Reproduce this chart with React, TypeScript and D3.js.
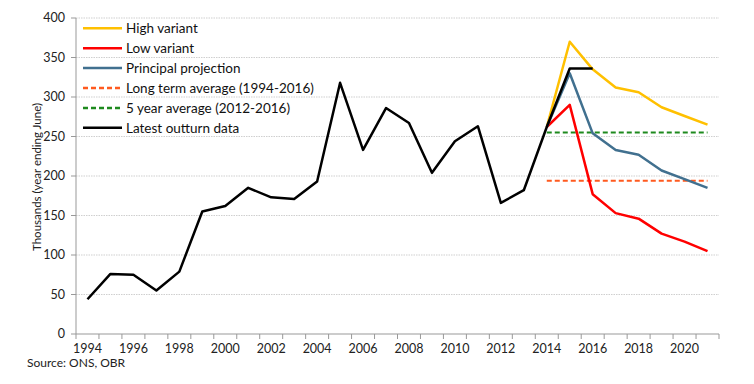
import React from "react";
import * as d3 from "d3";

const years: number[] = d3.range(1994, 2022);
const outturnYears = [1994,1995,1996,1997,1998,1999,2000,2001,2002,2003,2004,2005,2006,2007,2008,2009,2010,2011,2012,2013,2014,2015,2016];
const outturn = [44,76,75,55,79,155,162,185,173,171,193,318,233,286,267,204,244,263,166,182,262,336,336];
const projYears = [2014,2015,2016,2017,2018,2019,2020,2021];
const high = [262,370,335,312,306,287,276,265];
const low = [262,290,177,153,146,127,117,105];
const principal = [262,330,254,233,227,207,196,185];
const longTermAvg = 194;
const fiveYearAvg = 255;
const yTicks = [0,50,100,150,200,250,300,350,400];
const xLabelYears = years.filter((y) => y % 2 === 0);

const W = 754, H = 384;
const left = 76, right = 719, top = 18, bottom = 334;
const FONT = "Lato, 'DejaVu Sans', sans-serif";

export default function App() {
  const x = d3.scaleBand<number>().domain(years).range([left, right]).padding(0);
  const cx = (yr: number) => (x(yr) as number) + x.bandwidth() / 2;
  const y = d3.scaleLinear().domain([0, 400]).range([bottom, top]);
  const line = d3.line<[number, number]>().x((d) => cx(d[0])).y((d) => y(d[1]));
  const zip = (xs: number[], vs: number[]) => xs.map((v, i) => [v, vs[i]] as [number, number]);

  const legend = [
    { label: "High variant", color: "#FFC000", dash: "" },
    { label: "Low variant", color: "#FF0000", dash: "" },
    { label: "Principal projection", color: "#41708F", dash: "" },
    { label: "Long term average (1994-2016)", color: "#FF5A1F", dash: "5,3" },
    { label: "5 year average (2012-2016)", color: "#1E8A1E", dash: "5,3" },
    { label: "Latest outturn data", color: "#000000", dash: "" },
  ];

  return (
    <svg width={W} height={H} style={{ position: "absolute", left: 0, top: 0, background: "#fff" }} fontFamily={FONT}>
      <rect width={W} height={H} fill="#fff" />
      {yTicks.filter((t) => t > 0).map((t) => (
        <line key={t} x1={left} x2={right} y1={y(t)} y2={y(t)} stroke="#cfcfcf" strokeWidth={1} strokeDasharray="1.5,1" />
      ))}
      {yTicks.map((t) => (
        <g key={"yt" + t}>
          <line x1={left - 5} x2={left} y1={y(t)} y2={y(t)} stroke="#999" />
          <text x={left - 11} y={y(t)} dy="0.35em" textAnchor="end" fontSize={12.5} fill="#222">{t}</text>
        </g>
      ))}
      <line x1={left} x2={left} y1={top} y2={bottom} stroke="#999" />
      <line x1={left} x2={right} y1={bottom} y2={bottom} stroke="#999" />
      {years.concat([2022]).map((yr) => {
        const xx = yr === 2022 ? right : (x(yr) as number);
        return <line key={"xt" + yr} x1={xx} x2={xx} y1={bottom} y2={bottom + 5} stroke="#999" />;
      })}
      {xLabelYears.map((yr) => (
        <text key={"xl" + yr} x={cx(yr)} y={349} dy="0.35em" textAnchor="middle" fontSize={12.5} fill="#222">{yr}</text>
      ))}
      <text transform={`translate(37,177) rotate(-90)`} textAnchor="middle" dy="0.35em" fontSize={11.5} fill="#222">Thousands (year ending June)</text>
      <text x={27} y={363} dy="0.35em" fontSize={12} fill="#222">Source: ONS, OBR</text>

      <path d={line([[2014, longTermAvg], [2021, longTermAvg]]) || ""} fill="none" stroke="#FF5A1F" strokeWidth={2} strokeDasharray="5,3" />
      <path d={line([[2014, fiveYearAvg], [2021, fiveYearAvg]]) || ""} fill="none" stroke="#1E8A1E" strokeWidth={2} strokeDasharray="5,3" />
      <path d={line(zip(projYears, high)) || ""} fill="none" stroke="#FFC000" strokeWidth={2.5} strokeLinejoin="round" />
      <path d={line(zip(projYears, low)) || ""} fill="none" stroke="#FF0000" strokeWidth={2.5} strokeLinejoin="round" />
      <path d={line(zip(projYears, principal)) || ""} fill="none" stroke="#41708F" strokeWidth={2.5} strokeLinejoin="round" />
      <path d={line(zip(outturnYears, outturn)) || ""} fill="none" stroke="#000" strokeWidth={2.5} strokeLinejoin="round" />

      {legend.map((l, i) => {
        const yy = 28.3 + i * 19.9;
        return (
          <g key={l.label}>
            <line x1={83} x2={122} y1={yy} y2={yy} stroke={l.color} strokeWidth={2.5} strokeDasharray={l.dash} />
            <text x={126} y={yy} dy="0.35em" fontSize={13.5} fill="#111">{l.label}</text>
          </g>
        );
      })}
    </svg>
  );
}
